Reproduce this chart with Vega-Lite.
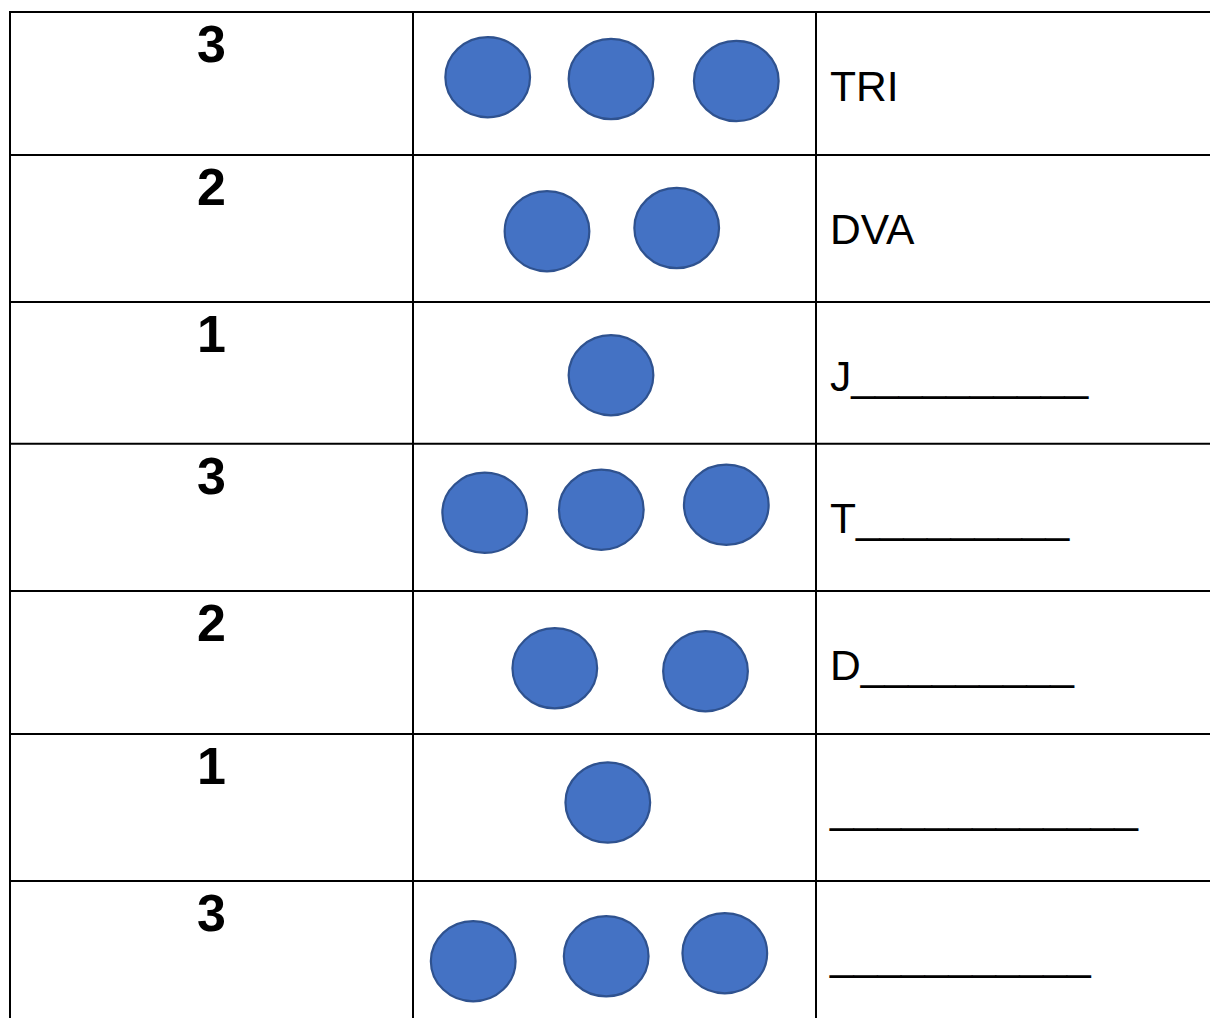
{
  "$schema": "https://vega.github.io/schema/vega-lite/v6.json",
  "width": 1210,
  "height": 1018,
  "padding": 0,
  "autosize": {"type": "none"},
  "background": "white",
  "config": {"view": {"stroke": null}},
  "datasets": {
    "hlines": [
      {"y": 12}, {"y": 155}, {"y": 302}, {"y": 443.8}, {"y": 591}, {"y": 734}, {"y": 881}
    ],
    "vlines": [
      {"x": 10}, {"x": 413}, {"x": 816}
    ],
    "cells": [
      {"row": 1, "top": 12, "number": "3", "word": "TRI"},
      {"row": 2, "top": 155, "number": "2", "word": "DVA"},
      {"row": 3, "top": 302, "number": "1", "word": "J__________"},
      {"row": 4, "top": 443.8, "number": "3", "word": "T_________"},
      {"row": 5, "top": 591, "number": "2", "word": "D_________"},
      {"row": 6, "top": 734, "number": "1", "word": "_____________"},
      {"row": 7, "top": 881, "number": "3", "word": "___________"}
    ],
    "dots": [
      {"row": 1, "cx": 487.7, "cy": 77.2},
      {"row": 1, "cx": 611, "cy": 79},
      {"row": 1, "cx": 736.3, "cy": 81},
      {"row": 2, "cx": 547, "cy": 231.2},
      {"row": 2, "cx": 676.7, "cy": 228},
      {"row": 3, "cx": 611, "cy": 375.2},
      {"row": 4, "cx": 484.7, "cy": 512.8},
      {"row": 4, "cx": 601.3, "cy": 509.7},
      {"row": 4, "cx": 726.3, "cy": 504.8},
      {"row": 5, "cx": 554.8, "cy": 668.3},
      {"row": 5, "cx": 705.5, "cy": 671.2},
      {"row": 6, "cx": 607.8, "cy": 802.5},
      {"row": 7, "cx": 473.2, "cy": 961.2},
      {"row": 7, "cx": 606.2, "cy": 956.3},
      {"row": 7, "cx": 724.8, "cy": 953.2}
    ]
  },
  "layer": [
    {
      "data": {"name": "hlines"},
      "mark": {"type": "rule", "stroke": "#000000", "strokeWidth": 2, "strokeCap": "square"},
      "encoding": {
        "x": {"datum": 10, "type": "quantitative", "scale": {"domain": [0, 1210], "nice": false, "zero": false}, "axis": null},
        "x2": {"datum": 1212},
        "y": {"field": "y", "type": "quantitative", "scale": {"domain": [0, 1018], "reverse": true, "nice": false, "zero": false}, "axis": null}
      }
    },
    {
      "data": {"name": "vlines"},
      "mark": {"type": "rule", "stroke": "#000000", "strokeWidth": 2, "strokeCap": "square"},
      "encoding": {
        "x": {"field": "x", "type": "quantitative", "axis": null},
        "y": {"datum": 12, "type": "quantitative", "axis": null},
        "y2": {"datum": 1020}
      }
    },
    {
      "data": {"name": "dots"},
      "mark": {
        "type": "point",
        "shape": "M-1,0C-1,-0.523,-0.5523,-0.947,0,-0.947C0.5523,-0.947,1,-0.523,1,0C1,0.523,0.5523,0.947,0,0.947C-0.5523,0.947,-1,0.523,-1,0Z",
        "size": 7174,
        "filled": true,
        "fill": "#4472C4",
        "stroke": "#2F528F",
        "strokeWidth": 2.2,
        "opacity": 1,
        "fillOpacity": 1,
        "strokeOpacity": 1
      },
      "encoding": {
        "x": {"field": "cx", "type": "quantitative", "axis": null},
        "y": {"field": "cy", "type": "quantitative", "axis": null}
      }
    },
    {
      "data": {"name": "cells"},
      "mark": {"type": "text", "font": "Liberation Sans", "fontWeight": "bold", "fontSize": 52, "align": "center", "baseline": "alphabetic", "dy": 50.3, "color": "#000000"},
      "encoding": {
        "x": {"datum": 211.5, "type": "quantitative", "axis": null},
        "y": {"field": "top", "type": "quantitative", "axis": null},
        "text": {"field": "number", "type": "nominal"}
      }
    },
    {
      "data": {"name": "cells"},
      "mark": {"type": "text", "font": "Liberation Sans", "fontSize": 42.6, "align": "left", "baseline": "alphabetic", "dx": 14, "dy": 89, "color": "#000000"},
      "encoding": {
        "x": {"datum": 816, "type": "quantitative", "axis": null},
        "y": {"field": "top", "type": "quantitative", "axis": null},
        "text": {"field": "word", "type": "nominal"}
      }
    }
  ]
}
